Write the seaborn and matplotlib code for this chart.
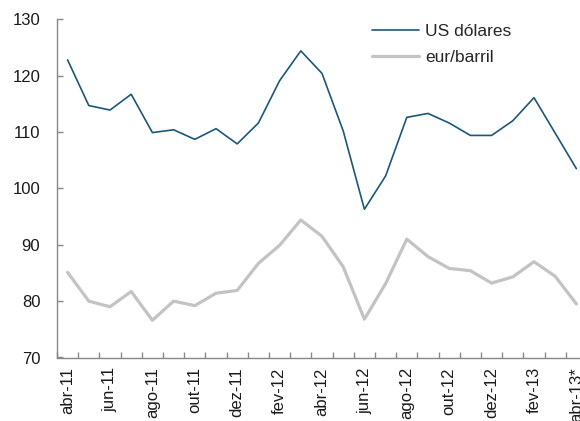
import matplotlib
matplotlib.use("Agg")
import matplotlib.pyplot as plt
import seaborn as sns
import pandas as pd
import numpy as np

months = ["abr-11", "mai-11", "jun-11", "jul-11", "ago-11", "set-11", "out-11", "nov-11",
          "dez-11", "jan-12", "fev-12", "mar-12", "abr-12", "mai-12", "jun-12", "jul-12",
          "ago-12", "set-12", "out-12", "nov-12", "dez-12", "jan-13", "fev-13", "mar-13",
          "abr-13*"]
usd = [122.8, 114.7, 113.9, 116.7, 109.9, 110.4, 108.7, 110.6, 107.9, 111.6, 119.1, 124.4,
       120.4, 110.2, 96.3, 102.2, 112.6, 113.3, 111.6, 109.4, 109.4, 112.0, 116.1, 109.8,
       103.5]
eur = [85.1, 80.0, 79.0, 81.7, 76.6, 80.0, 79.2, 81.4, 81.9, 86.7, 89.9, 94.4, 91.5, 86.1,
       76.8, 83.1, 91.0, 87.9, 85.8, 85.4, 83.2, 84.3, 87.0, 84.4, 79.5]
series_names = ["US dólares", "eur/barril"]
y_ticks = [70, 80, 90, 100, 110, 120, 130]

sns.set_style("ticks")
plt.rcParams["font.family"] = ["Liberation Sans", "DejaVu Sans"]

df = pd.DataFrame({
    "idx": list(range(len(months))) * 2,
    "valor": usd + eur,
    "serie": [series_names[0]] * len(months) + [series_names[1]] * len(months),
})

fig = plt.figure(figsize=(5.8, 4.21), dpi=100)
ax = fig.add_axes([57 / 580, (421 - 357.5) / 421, 530 / 580, (357.5 - 19.3) / 421])

palette = {series_names[0]: "#1B5878", series_names[1]: "#C3C3C3"}
sns.lineplot(data=df, x="idx", y="valor", hue="serie", palette=palette,
             size="serie", sizes={series_names[0]: 1.2, series_names[1]: 2.3},
             ax=ax, legend=False)

ax.set_xlim(-0.5, len(months) - 0.5)
ax.set_ylim(70, 130)
ax.set_yticks(y_ticks)
ax.set_xticks(np.arange(0, len(months), 2))
ax.set_xticklabels(months[::2], rotation=90)
ax.set_xticks(np.arange(-0.5, len(months), 1), minor=True)
ax.tick_params(axis="x", which="major", length=0, pad=7, labelsize=12, colors="#1a1a1a")
ax.tick_params(axis="x", which="minor", direction="in", length=4, width=1, color="#888888")
ax.tick_params(axis="y", direction="in", length=4, width=1, color="#888888", pad=12,
               labelsize=12, labelcolor="#1a1a1a")
for lab in ax.get_xticklabels():
    lab.set_va("top")
ax.set_xlabel("")
ax.set_ylabel("")
for s in ["top", "right"]:
    ax.spines[s].set_visible(False)
for s in ["left", "bottom"]:
    ax.spines[s].set_color("#888888")
    ax.spines[s].set_linewidth(1)

from matplotlib.lines import Line2D
handles = [Line2D([], [], color=palette[series_names[0]], lw=1.2),
           Line2D([], [], color=palette[series_names[1]], lw=2.3)]
fig.legend(handles, series_names, loc="upper left", bbox_to_anchor=(372 / 580, 1 - 24 / 421),
           frameon=False, fontsize=12.5, handlelength=2.7, handletextpad=0.35,
           labelspacing=0.6, borderpad=0, borderaxespad=0)

fig.savefig("out.png", dpi=100)
